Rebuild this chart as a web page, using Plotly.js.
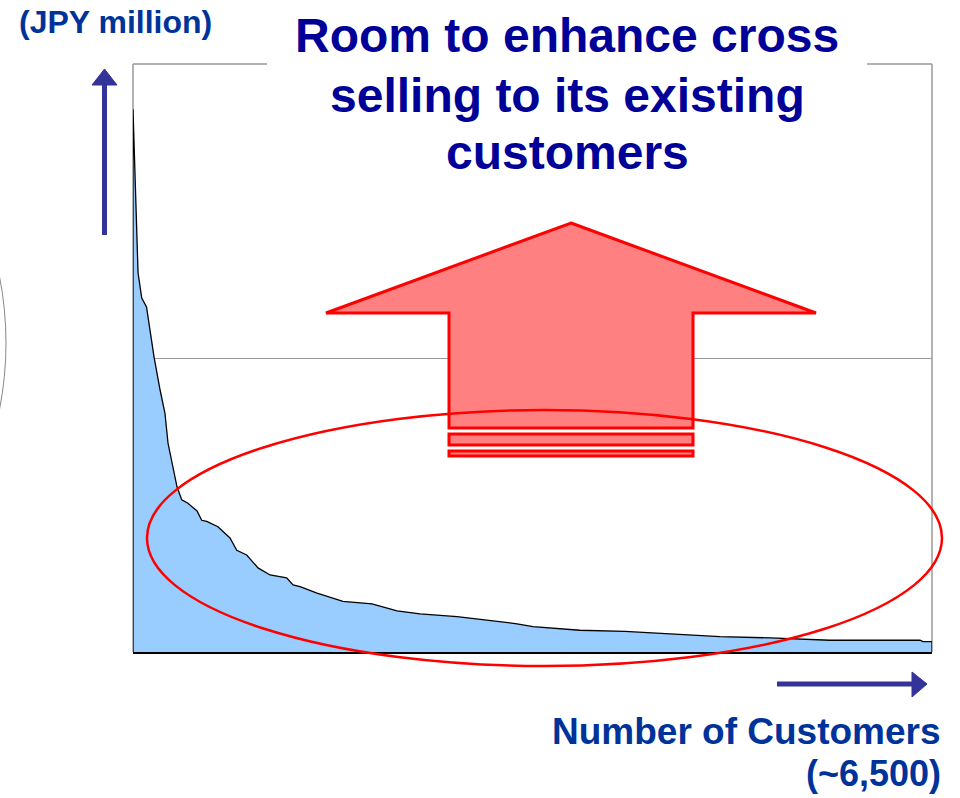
<!DOCTYPE html>
<html>
<head>
<meta charset="utf-8">
<script src="https://cdn.plot.ly/plotly-3.0.1.min.js"></script>
<style>html,body{margin:0;padding:0;background:#fff;}#chart{width:960px;height:798px;}</style>
</head>
<body>
<div id="chart"></div>
<script>
// Customers ranked by sales (index up to ~6,500) and their sales (relative scale, JPY million)
const customerRank = [0, 0, 41, 71, 110, 152, 171, 220, 260, 285, 325, 358, 396, 447, 480, 521, 559, 600, 691, 789, 844, 925, 1017, 1115, 1250, 1302, 1359, 1497, 1708, 1944, 2148, 2335, 2636, 2880, 3124, 3254, 3636, 4002, 4230, 4450, 4775, 5182, 5670, 6402, 6427, 6500, 6500];
const salesValue   = [0, 92.3, 64.5, 60.2, 58.7, 53.1, 50.2, 44.6, 40.6, 35.5, 31.5, 28.1, 25.9, 25.3, 24.7, 24.0, 22.4, 22.2, 21.3, 19.4, 17.3, 16.5, 14.3, 13.1, 12.6, 11.4, 11.1, 10.0, 8.6, 8.2, 7.0, 6.5, 6.0, 5.4, 4.8, 4.3, 3.7, 3.5, 3.2, 2.9, 2.6, 2.4, 2.0, 2.0, 1.75, 1.75, 0];

const titleLines = ["Room to enhance cross", "selling to its existing", "customers"];
const yUnitLabel = "(JPY million)";
const xLabelLines = ["Number of Customers", "(~6,500)"];

// plot area in pixels: left 133, right 932, top 64, bottom 652
const L = 133, R = 932, T = 64, B = 652;
const px = v => (v - L) / (R - L);
const py = v => (B - v) / (B - T);

const FONT = "Arial, 'Liberation Sans', sans-serif";

const trace = {
  x: customerRank, y: salesValue,
  type: 'scatter', mode: 'lines',
  fill: 'toself', fillcolor: '#99CCFF',
  line: {color: '#000000', width: 1.3},
  hoverinfo: 'skip', showlegend: false
};

const gray = '#999999';
const shapes = [
  // frame (gray)
  {type:'line', xref:'paper', yref:'paper', x0:0, x1:0, y0:0, y1:1, line:{color:gray, width:1.5}, layer:'below'},
  {type:'line', xref:'paper', yref:'paper', x0:1, x1:1, y0:0, y1:1, line:{color:gray, width:1.5}, layer:'below'},
  {type:'line', xref:'paper', yref:'paper', x0:0, x1:px(267), y0:1, y1:1, line:{color:gray, width:1.5}, layer:'below'},
  {type:'line', xref:'paper', yref:'paper', x0:px(867), x1:1, y0:1, y1:1, line:{color:gray, width:1.5}, layer:'below'},
  // gray arc at far left
  {type:'circle', xref:'paper', yref:'paper', x0:px(-682), x1:px(6), y0:py(687), y1:py(-1), line:{color:'#888888', width:1}, layer:'above'},
  // big up arrow
  {type:'path', xref:'paper', yref:'paper', layer:'above',
   path:`M ${px(571)} ${py(223)} L ${px(816)} ${py(313)} L ${px(693)} ${py(313)} L ${px(693)} ${py(428)} L ${px(449)} ${py(428)} L ${px(449)} ${py(313)} L ${px(326)} ${py(313)} Z`,
   fillcolor:'#FF8080', line:{color:'#FF0000', width:3}},
  {type:'rect', xref:'paper', yref:'paper', layer:'above', x0:px(449), x1:px(693), y0:py(434), y1:py(445),
   fillcolor:'#FF8080', line:{color:'#FF0000', width:3}},
  {type:'rect', xref:'paper', yref:'paper', layer:'above', x0:px(449), x1:px(693), y0:py(451), y1:py(456),
   fillcolor:'#FF8080', line:{color:'#FF0000', width:3}},
  // red ellipse
  {type:'circle', xref:'paper', yref:'paper', layer:'above', x0:px(147), x1:px(942), y0:py(666), y1:py(410),
   line:{color:'#FF0000', width:2.5}},
  // vertical blue arrow
  {type:'line', xref:'paper', yref:'paper', x0:px(104.5), x1:px(104.5), y0:py(235), y1:py(82), line:{color:'#333399', width:5}},
  {type:'path', xref:'paper', yref:'paper', path:`M ${px(92)} ${py(85)} L ${px(104.5)} ${py(69)} L ${px(117)} ${py(85)} Z`,
   fillcolor:'#333399', line:{color:'#333399', width:1}},
  // horizontal blue arrow
  {type:'line', xref:'paper', yref:'paper', x0:px(777), x1:px(915), y0:py(684), y1:py(684), line:{color:'#333399', width:5}},
  {type:'path', xref:'paper', yref:'paper', path:`M ${px(912)} ${py(672)} L ${px(927)} ${py(684)} L ${px(912)} ${py(697)} Z`,
   fillcolor:'#333399', line:{color:'#333399', width:1}}
];

const titleY = [36, 95, 152];
const annotations = titleLines.map((t, i) => ({
  xref:'paper', yref:'paper', x:px(567), y:py(titleY[i]), xanchor:'center', yanchor:'middle',
  text:'<b>' + t + '</b>', showarrow:false,
  font:{family:FONT, size:48, color:'#000099'}
}));
annotations.push({
  xref:'paper', yref:'paper', x:px(115), y:py(22), xanchor:'center', yanchor:'middle',
  text:'<b>' + yUnitLabel + '</b>', showarrow:false,
  font:{family:FONT, size:32, color:'#003399'}
});
annotations.push({
  xref:'paper', yref:'paper', x:px(943), y:py(731), xanchor:'right', yanchor:'middle',
  text:'<b>' + xLabelLines[0] + '</b>', showarrow:false,
  font:{family:FONT, size:37, color:'#003399'}
});
annotations.push({
  xref:'paper', yref:'paper', x:px(943), y:py(774), xanchor:'right', yanchor:'middle',
  text:'<b>' + xLabelLines[1] + '</b>', showarrow:false,
  font:{family:FONT, size:36, color:'#003399'}
});

const layout = {
  width: 960, height: 798,
  margin: {l: L, r: 960 - R, t: T, b: 798 - B},
  paper_bgcolor: '#ffffff', plot_bgcolor: '#ffffff',
  showlegend: false,
  xaxis: {range: [0, 6500], showgrid: false, zeroline: false, showline: true, linecolor: '#000000', linewidth: 2, showticklabels: false, ticks: '', fixedrange: true},
  yaxis: {range: [0, 100], tickvals: [50], showgrid: true, gridcolor: gray, gridwidth: 1, zeroline: false, showline: false, showticklabels: false, ticks: '', fixedrange: true},
  shapes: shapes,
  annotations: annotations
};

Plotly.newPlot('chart', [trace], layout, {staticPlot: true, displayModeBar: false});
</script>
</body>
</html>
